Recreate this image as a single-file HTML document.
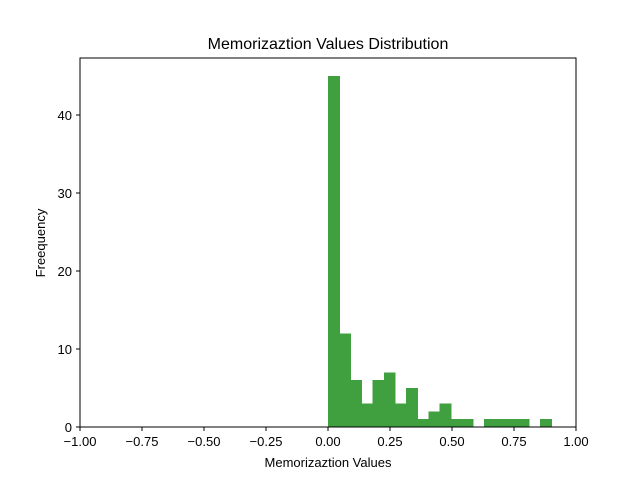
<!DOCTYPE html>
<html><head><meta charset="utf-8"><style>
body{margin:0;background:#fff;font-family:"Liberation Sans","DejaVu Sans",sans-serif}
</style></head><body>
<svg width="640" height="480" xmlns="http://www.w3.org/2000/svg">
<rect width="640" height="480" fill="#fff"/>
<g id="bars" shape-rendering="crispEdges"></g>
<rect x="80" y="58" width="496" height="369" fill="none" stroke="#000" stroke-width="1"/>
<g id="xticks"></g>
<g id="yticks"></g>
<text x="328" y="49" font-size="16" text-anchor="middle">Memorizaztion Values Distribution</text>
<text x="328" y="467" font-size="13" text-anchor="middle">Memorizaztion Values</text>
<text x="45" y="243" font-size="13" text-anchor="middle" transform="rotate(-90 45 243)">Freequency</text>
</svg>
<script>
const counts=[45,12,6,3,6,7,3,5,1,2,3,1,1,0,1,1,1,1,0,1];
const binStart=0, binWidth=0.045;
const xTicks=[-1,-0.75,-0.5,-0.25,0,0.25,0.5,0.75,1];
const xTickLabels=["−1.00","−0.75","−0.50","−0.25","0.00","0.25","0.50","0.75","1.00"];
const yTicks=[0,10,20,30,40];
const NS="http://www.w3.org/2000/svg";
const X=v=>80+(v+1)*248;
const Y=v=>427-v*7.8;
const bars=document.getElementById('bars');
counts.forEach((c,i)=>{if(!c)return;
const r=document.createElementNS(NS,'rect');
const x0=X(binStart+i*binWidth),x1=X(binStart+(i+1)*binWidth);
r.setAttribute('x',x0);r.setAttribute('width',x1-x0+0.6);
r.setAttribute('y',Y(c));r.setAttribute('height',Y(0)-Y(c));
r.setAttribute('fill','rgb(64,160,64)');


bars.appendChild(r);});
const xg=document.getElementById('xticks');
xTicks.forEach((t,i)=>{
const l=document.createElementNS(NS,'line');
l.setAttribute('x1',X(t));l.setAttribute('x2',X(t));l.setAttribute('y1',427);l.setAttribute('y2',431);l.setAttribute('stroke','#000');


xg.appendChild(l);
const tx=document.createElementNS(NS,'text');
tx.setAttribute('x',X(t));tx.setAttribute('y',446);tx.setAttribute('font-size','13');tx.setAttribute('text-anchor','middle');
tx.textContent=xTickLabels[i];


xg.appendChild(tx);});
const yg=document.getElementById('yticks');
yTicks.forEach(t=>{
const l=document.createElementNS(NS,'line');
l.setAttribute('x1',76);l.setAttribute('x2',80);l.setAttribute('y1',Y(t));l.setAttribute('y2',Y(t));l.setAttribute('stroke','#000');


yg.appendChild(l);
const tx=document.createElementNS(NS,'text');
tx.setAttribute('x',72);tx.setAttribute('y',Y(t)+5);tx.setAttribute('font-size','13');tx.setAttribute('text-anchor','end');
tx.textContent=t;


yg.appendChild(tx);});
</script>
</body></html>
